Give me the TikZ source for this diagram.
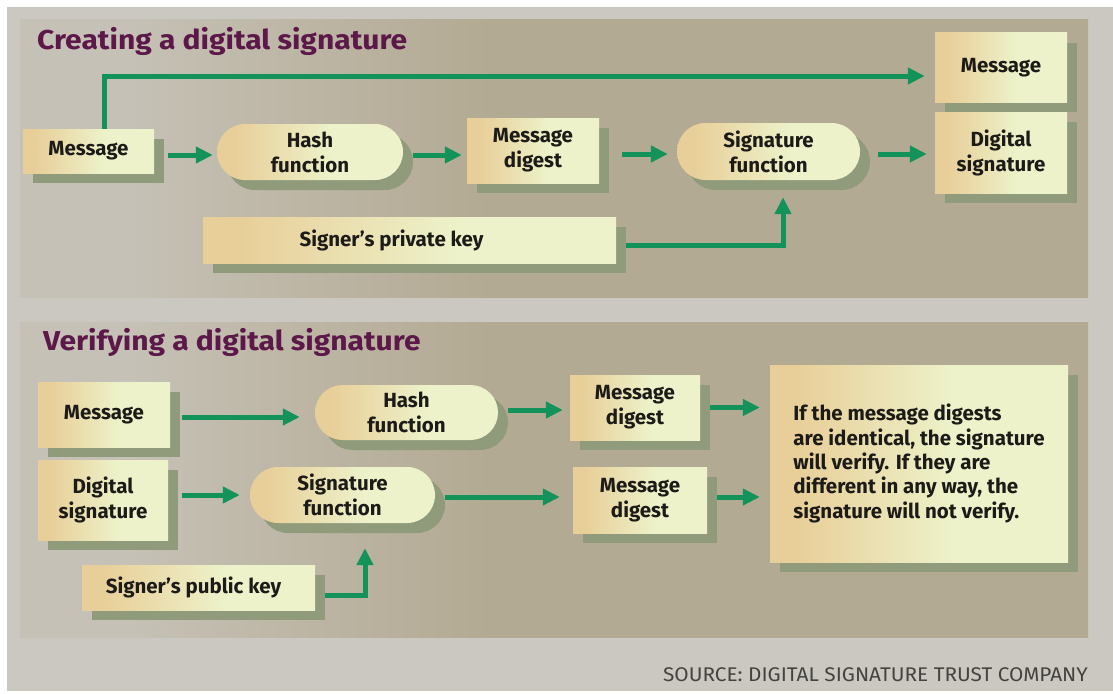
\documentclass[tikz,border=0pt]{standalone}
\usepackage{fontspec}
\setmainfont{Fira Sans}
\newfontfamily\headfont[FakeStretch=1.1]{Fira Sans}
\newfontfamily\creditfont[FakeStretch=1.05]{Fira Sans}
\usetikzlibrary{shapes.misc,shadows,arrows.meta,calc}

\definecolor{pagebg}{HTML}{CBC8C1}
\definecolor{panelL}{HTML}{C6C1B6}
\definecolor{panelR}{HTML}{B3AA93}
\definecolor{boxL}{HTML}{E8CE98}
\definecolor{boxR}{HTML}{EDF2CA}
\definecolor{shadowc}{HTML}{8F9B7A}
\definecolor{flow}{HTML}{13925A}
\definecolor{headline}{HTML}{5B1848}
\definecolor{ink}{HTML}{1D1B18}
\definecolor{credit}{HTML}{44433F}

% box fill: warm tan on the left fading into pale yellow-green
\pgfdeclarehorizontalshading{boxfade}{100bp}{color(0bp)=(boxL); color(29bp)=(boxL); color(56bp)=(boxR); color(100bp)=(boxR)}
% panel fill: grey on the left fading into khaki
\pgfdeclarehorizontalshading{panelfade}{100bp}{color(0bp)=(panelL); color(30bp)=(panelL); color(47bp)=(panelR); color(100bp)=(panelR)}

\newcommand\boxfont{\bfseries\fontsize{20.5}{25}\selectfont}

\begin{document}
\begin{tikzpicture}[x=1pt, y=-1pt,
  box/.style={rectangle, shade, shading=boxfade,
    general shadow={fill=shadowc, shadow xshift=10pt, shadow yshift=-10pt},
    inner sep=0pt, align=center, text=ink, font=\boxfont},
  pill/.style={box, rounded rectangle},
  flowarrow/.style={draw=flow, line width=5pt, -{Triangle[length=17pt,width=16pt]}},
  headtext/.style={anchor=base west, inner sep=0pt, text=headline,
    font=\headfont\bfseries\fontsize{27.3}{31}\selectfont}]

\useasboundingbox (0,0) rectangle (1113,693);
\fill[white] (0,0) rectangle (1113,693);
\fill[pagebg] (7,7) rectangle (1113,691);
\shade[shading=panelfade] (20,20) rectangle (1088,297);
\shade[shading=panelfade] (20,322) rectangle (1088,637);

% ---- creating a signature ----
\node[headtext] (titleA) at (37,49) {Creating a digital signature};

\node[box, minimum width=131pt, minimum height=44pt] (msgA) at (88.5,151) {Message};
\node[pill, minimum width=186pt, minimum height=56pt] (hashA) at (310,152) {Hash\\function};
\node[box, minimum width=132pt, minimum height=65pt] (digA) at (533,150.5) {Message\\digest};
\node[pill, minimum width=183pt, minimum height=57pt] (sigA) at (768.5,151.5) {Signature\\function};
\node[box, minimum width=413pt, minimum height=46pt] (keyA) at (409.5,240) {Signer’s private key\hspace*{36pt}};
\node[box, minimum width=132pt, minimum height=69pt] (outMsg) at (1001,67.5) {Message};
\node[box, minimum width=132pt, minimum height=81pt] (outSig) at (1001,152.5) {Digital\\signature};

\draw[flowarrow] ([xshift=14pt,yshift=-4pt]msgA.east) -- ([xshift=-4pt,yshift=-3pt]hashA.west);
\draw[flowarrow] ([xshift=10pt,yshift=-3pt]hashA.east) -- ([xshift=-5pt,yshift=-4.5pt]digA.west);
\draw[flowarrow] ([xshift=23pt,yshift=-3.5pt]digA.east) -- ([xshift=-9pt,yshift=-2.5pt]sigA.west);
\draw[flowarrow] ([xshift=18pt,yshift=-2.5pt]sigA.east) -- ([xshift=-8pt,yshift=-1.5pt]outSig.west);
\draw[flowarrow] ([xshift=15.5pt]msgA.north) |- ([xshift=-10pt,yshift=-8.5pt]outMsg.west);
\draw[flowarrow] ([xshift=10pt,yshift=-5pt]keyA.east) -| ([xshift=14.5pt,yshift=-17pt]sigA.south);

% ---- verifying a signature ----
\node[headtext] (titleB) at (43,350) {Verifying a digital signature};

\node[box, minimum width=132pt, minimum height=65pt] (msgB) at (104,414.5) {Message};
\node[box, minimum width=130pt, minimum height=80pt] (dsigB) at (103,500) {Digital\\signature};
\node[pill, minimum width=183pt, minimum height=55pt] (hashB) at (406.5,412.5) {Hash\\function};
\node[pill, minimum width=185pt, minimum height=56pt] (sigB) at (342.5,495) {Signature\\function};
\node[box, minimum width=233pt, minimum height=45pt] (keyB) at (198.5,587.5) {Signer’s public key\hspace*{10pt}};
\node[box, minimum width=130pt, minimum height=65pt] (digB1) at (635,407.5) {Message\\digest};
\node[box, minimum width=134pt, minimum height=66pt] (digB2) at (640,500) {Message\\digest};
\node[box, minimum width=298pt, minimum height=197pt, align=left,
  font=\bfseries\fontsize{20.5}{24.3}\selectfont] (verdict) at (919,463.5)
  {If the message digests\\are identical, the signature\\will verify. If they are\\different in any way, the\\signature will not verify.};

\draw[flowarrow] ([xshift=12pt,yshift=-2.5pt]msgB.east) -- ([xshift=-15pt,yshift=-4.5pt]hashB.west);
\draw[flowarrow] ([xshift=14pt,yshift=5pt]dsigB.east) -- ([xshift=-10pt]sigB.west);
\draw[flowarrow] ([xshift=10pt,yshift=2.5pt]hashB.east) -- ([xshift=-7pt,yshift=-2.5pt]digB1.west);
\draw[flowarrow] ([xshift=10pt,yshift=-2pt]sigB.east) -- ([xshift=-13pt,yshift=3pt]digB2.west);
\draw[flowarrow] ([xshift=10pt]digB1.east) -- ([xshift=-10pt]verdict.west |- digB1.east);
\draw[flowarrow] ([xshift=10pt,yshift=3pt]digB2.east) -- ([xshift=-10pt,yshift=3pt]verdict.west |- digB2.east);
\draw[flowarrow] ([xshift=10pt,yshift=-7.5pt]keyB.east) -| ([xshift=22.5pt,yshift=-25pt]sigB.south);

\node[anchor=base east, inner sep=0pt, text=credit, font=\creditfont\fontsize{19.8}{23}\selectfont] (source) at (1088,681)
  {SOURCE: DIGITAL SIGNATURE TRUST COMPANY};
\end{tikzpicture}
\end{document}
